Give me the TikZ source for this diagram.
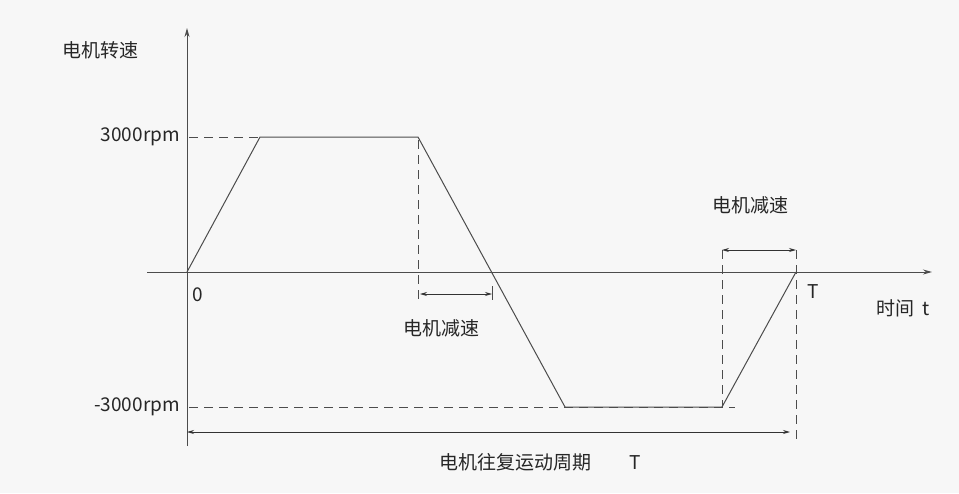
\documentclass[tikz,border=0pt]{standalone}
\usepackage{fontspec}
\setmainfont{Noto Sans CJK SC}
\usetikzlibrary{arrows.meta}
\begin{document}
\begin{tikzpicture}[x=1pt,y=-1pt,
  ln/.style={draw=black!70,line width=1pt},
  dsh/.style={draw=black!70,line width=0.9pt,dash pattern=on 9pt off 6pt},
  dim/.style={draw=black!80,line width=0.8pt,{Stealth[length=7pt,width=4pt]}-{Stealth[length=7pt,width=4pt]}},
  lbl/.style={font=\fontsize{19}{22}\selectfont,text=black!85,inner sep=0pt}]
\fill[white!97!black] (0,0) rectangle (959,493);
\useasboundingbox (0,0) rectangle (959,493);
\coordinate (O) at (187,272);
\coordinate (ytop) at (187,28);
\coordinate (ybot) at (187,446);
\coordinate (xl) at (147,272);
\coordinate (xr) at (932,272);
\draw[ln,-{Stealth[length=9pt,width=5pt]}] (ybot) -- (ytop);
\draw[ln,-{Stealth[length=9pt,width=5pt]}] (xl) -- (xr);
\coordinate (p1) at (260,137);
\coordinate (p2) at (418,137);
\coordinate (p3) at (565,407);
\coordinate (p4) at (722,407);
\coordinate (p5) at (796,272);
\draw[ln] (O) -- (p1) -- (p2) -- (p3) -- (p4) -- (p5);
\draw[dsh] (189,137) -- (p1);
\draw[dsh] (189,407) -- (735,407);
\draw[dsh] (418,140) -- (418,300);
\draw[dsh] (722,250) -- (722,407);
\draw[dsh] (796,250) -- (796,442);
\coordinate (a1) at (420,294); \coordinate (a2) at (492,294);
\draw[dim] (a1) -- (a2);
\draw[ln,line width=0.8pt] (492,286) -- (492,300);
\coordinate (b1) at (722,250); \coordinate (b2) at (796,250);
\draw[dim] (b1) -- (b2);
\coordinate (c1) at (187,432); \coordinate (c2) at (790,432);
\draw[dim] (c1) -- (c2);
\node[lbl,anchor=east] (v1) at (180,137) {3000rpm};
\node[lbl,anchor=east] (v2) at (180,407) {-3000rpm};
\node[lbl] (ylab) at (100,50) {电机转速};
\node[lbl] (zero) at (198,295) {0};
\node[lbl] (tT) at (813,292) {T};
\node[lbl] (tlab) at (903,308) {时间\ \ t};
\node[lbl] (d1) at (441,328) {电机减速};
\node[lbl] (d2) at (750,205) {电机减速};
\node[lbl] (per) at (540,462) {电机往复运动周期\qquad T};
\end{tikzpicture}
\end{document}
